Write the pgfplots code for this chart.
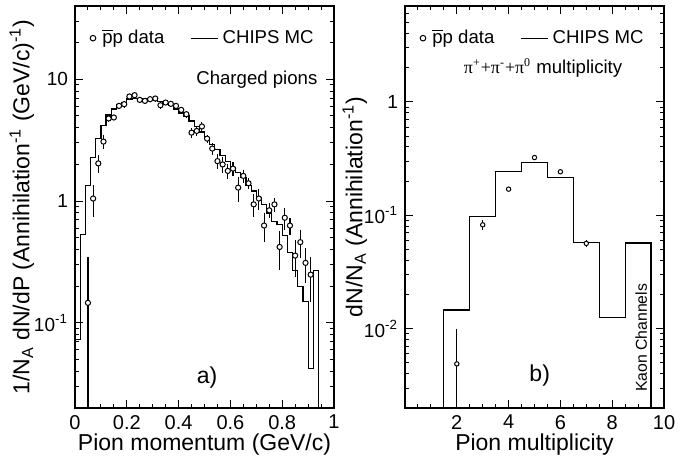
\documentclass[border=0pt]{standalone}
\usepackage{fontspec}
\setmainfont{Liberation Sans}
\newfontfamily\pifont{Liberation Serif}
\usepackage{pgfplots}
\pgfplotsset{compat=1.18}

\newcommand{\pbar}{$\overline{\mbox{p}}$p}
\newcommand{\legfont}{\fontsize{9.3}{11}\selectfont}

\pgfplotsset{
  mypanel/.style={
    scale only axis, width=129.5pt, height=201pt,
    axis line style={line width=0.75pt},
    tick style={black, line width=0.5pt},
    major tick length=4pt, minor tick length=2.2pt,
    xticklabel style={font=\fontsize{10}{12}\selectfont},
    yticklabel style={font=\fontsize{9.5}{11}\selectfont},
    label style={font=\fontsize{11.5}{13}\selectfont},
    xlabel style={at={(axis description cs:0.5,-0.09)}, anchor=center},
    minor x tick num=3,
    legend columns=2,
    legend cell align=left,
    legend style={draw=none, fill=none, font=\legfont, anchor=west,
      at={(axis description cs:0.032,0.92)},
      /tikz/every even column/.append style={column sep=11pt}},
  },
  mchist/.style={black, line width=0.6pt, const plot},
  ppdata/.style={black, only marks, mark=*, mark size=1.3pt,
    mark options={fill=white, line width=0.5pt},
    error bars/y dir=both, error bars/y explicit,
    error bars/error bar style={line width=0.55pt}, error bars/error mark=none},
  dataleg/.style={legend image code/.code={\draw[line width=0.5pt, fill=white] (4pt,0pt) circle (1.4pt); \path (6.5pt,0pt);}},
  mcleg/.style={legend image code/.code={\draw[line width=0.6pt] (0pt,0pt) -- (13.5pt,0pt);}},
}

\begin{document}
\begin{tikzpicture}
\useasboundingbox (-37.5pt,-25.5pt) rectangle (307.5pt,204pt);

\begin{axis}[mypanel, ymode=log,
  xmin=0, xmax=1, ymin=0.02, ymax=40,
  xtick={0,0.2,0.4,0.6,0.8,1}, xticklabels={0,0.2,0.4,0.6,0.8,1},
  ytick={0.1,1,10}, yticklabels={10\textsuperscript{-1},1,10},
  minor ytick={0.02,0.03,0.04,0.05,0.06,0.07,0.08,0.09,0.2,0.3,0.4,0.5,0.6,0.7,0.8,0.9,2,3,4,5,6,7,8,9,20,30,40},
  xlabel={Pion momentum (GeV/c)},
  ylabel={1/N\textsubscript{A} dN/dP (Annihilation\textsuperscript{-1} (GeV/c)\textsuperscript{-1})},
  ylabel style={at={(axis description cs:-0.205,0.5)}, anchor=center},
]
\addlegendimage{dataleg}
\addlegendentry{\pbar{} data}
\addlegendimage{mcleg}
\addlegendentry{CHIPS MC}

% CHIPS MC histogram, bins of 0.02 GeV/c
\addplot[mchist, forget plot] coordinates {
(0,0.015) (0,0.073) (0.02,0.53) (0.04,1.35) (0.06,2.28) (0.08,3.28)
(0.10,4.2) (0.12,5.1) (0.14,5.7) (0.16,6.25) (0.18,6.5) (0.20,6.9)
(0.22,6.95) (0.24,6.95) (0.26,6.95) (0.28,6.9) (0.30,6.8) (0.32,6.6)
(0.34,6.4) (0.36,6.1) (0.38,5.7) (0.40,5.3) (0.42,5.0) (0.44,4.55)
(0.46,4.1) (0.48,3.7) (0.50,3.3) (0.52,2.93) (0.54,2.66) (0.56,2.38)
(0.58,2.13) (0.60,1.88) (0.62,1.71) (0.64,1.56) (0.66,1.35) (0.68,1.21)
(0.70,1.07) (0.72,0.94) (0.74,0.80) (0.76,0.68) (0.78,0.64) (0.80,0.52)
(0.82,0.38) (0.84,0.27) (0.86,0.20) (0.88,0.15) (0.90,0.0425) (0.92,0.27)
(0.94,0.27) (0.94,0.015)
};

% p-bar p data
\addplot[ppdata, forget plot] coordinates {
(0.05,0.146) +=(0,0.204) -=(0,0.131)
(0.07,1.05) +- (0,0.31)
(0.09,2.04) +- (0,0.33)
(0.11,3.08) +- (0,0.42)
(0.13,4.77) +- (0,0.3)
(0.15,4.86) +- (0,0.25)
(0.17,6.05) +- (0,0.35)
(0.19,6.25) +- (0,0.4)
(0.21,7.23) +- (0,0.3)
(0.23,7.41) +- (0,0.3)
(0.25,6.78) +- (0,0.3)
(0.27,6.65) +- (0,0.3)
(0.29,6.87) +- (0,0.35)
(0.31,6.96) +- (0,0.4)
(0.33,6.13) +- (0,0.4)
(0.35,6.45) +- (0,0.35)
(0.37,6.29) +- (0,0.35)
(0.39,6.05) +- (0,0.35)
(0.41,5.61) +- (0,0.35)
(0.43,5.17) +- (0,0.35)
(0.45,3.65) +- (0,0.35)
(0.47,3.77) +- (0,0.35)
(0.49,4.1) +- (0,0.4)
(0.51,3.26) +- (0,0.25)
(0.53,2.70) +- (0,0.3)
(0.55,2.13) +- (0,0.3)
(0.57,2.0) +- (0,0.3)
(0.59,1.77) +- (0,0.25)
(0.61,1.85) +- (0,0.25)
(0.63,1.29) +- (0,0.3)
(0.65,1.61) +- (0,0.2)
(0.67,1.40) +- (0,0.15)
(0.69,0.94) +- (0,0.2)
(0.71,1.05) +- (0,0.2)
(0.73,0.63) +- (0,0.17)
(0.75,0.84) +- (0,0.12)
(0.77,0.94) +- (0,0.12)
(0.79,0.42) +- (0,0.15)
(0.81,0.73) +- (0,0.15)
(0.83,0.63) +- (0,0.1)
(0.85,0.357) +- (0,0.12)
(0.87,0.46) +- (0,0.12)
(0.89,0.311) +- (0,0.1)
(0.91,0.249) +- (0,0.1)
};

\node[anchor=east, font=\legfont] at (axis description cs:0.963,0.816) {Charged pions};
\node[font=\fontsize{11.5}{13}\selectfont] at (axis description cs:0.51,0.075) {a)};
\end{axis}

\begin{axis}[mypanel, ymode=log, at={(165pt,0)},
  xmin=0, xmax=10, ymin=0.002, ymax=7,
  xtick={0,2,4,6,8,10}, xticklabels={,2,4,6,8,10},
  ytick={0.01,0.1,1}, yticklabels={10\textsuperscript{-2},10\textsuperscript{-1},1},
  minor ytick={0.002,0.003,0.004,0.005,0.006,0.007,0.008,0.009,0.02,0.03,0.04,0.05,0.06,0.07,0.08,0.09,0.2,0.3,0.4,0.5,0.6,0.7,0.8,0.9,2,3,4,5,6,7},
  xlabel={Pion multiplicity},
  ylabel={dN/N\textsubscript{A} (Annihilation\textsuperscript{-1})},
  ylabel style={at={(axis description cs:-0.194,0.5)}, anchor=center},
]
\addlegendimage{dataleg}
\addlegendentry{\pbar{} data}
\addlegendimage{mcleg}
\addlegendentry{CHIPS MC}

\addplot[mchist, forget plot] coordinates {
(1.5,0.0015) (1.5,0.0146) (2.5,0.097) (3.5,0.243) (4.5,0.294) (5.5,0.215)
(6.5,0.0576) (7.5,0.0126) (8.5,0.057) (9.5,0.057) (9.5,0.0015)
};

\addplot[ppdata, mark size=1.1pt, forget plot] coordinates {
(2,0.0049) +=(0,0.0051) -=(0,0.0036)
(3,0.0824) +- (0,0.008)
(4,0.17) +- (0,0.006)
(5,0.323) +- (0,0.01)
(6,0.242) +- (0,0.008)
(7,0.0565) +- (0,0.004)
};

\node[font=\legfont] at (axis description cs:0.533,0.846) {{\pifont\fontsize{9}{10}\selectfont π\textsuperscript{+}+π\textsuperscript{-}+π\textsuperscript{0}} multiplicity};
\node[rotate=90, font=\fontsize{7.9}{9}\selectfont] at (axis cs:9.12,0.0083) {Kaon Channels};
\node[font=\fontsize{11.5}{13}\selectfont] at (axis description cs:0.52,0.08) {b)};
\end{axis}
\end{tikzpicture}
\end{document}
